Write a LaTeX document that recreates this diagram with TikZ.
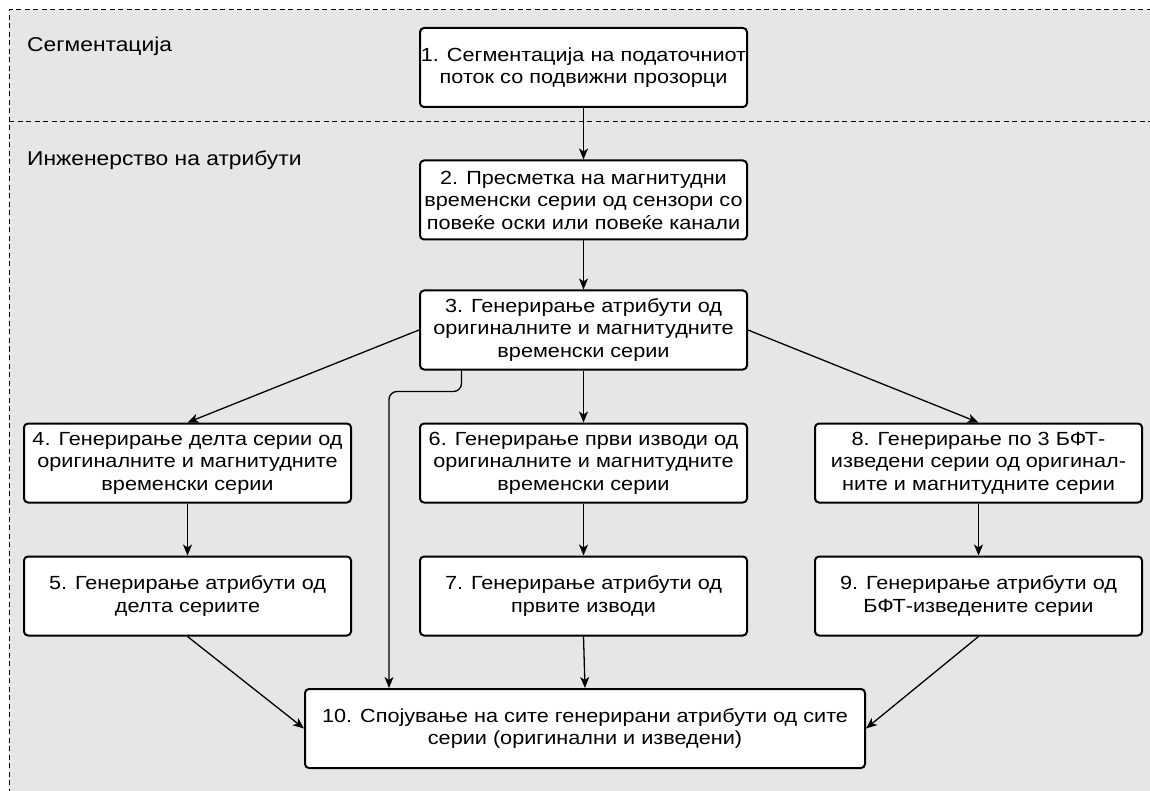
\documentclass[tikz,border=0pt]{standalone}
\usepackage{fontspec}
\setmainfont[FakeStretch=1.14]{Liberation Sans}
\usetikzlibrary{arrows.meta,calc}
\definecolor{bggray}{HTML}{E6E6E6}
\tikzset{
  stepbox/.style={draw, line width=2pt, rounded corners=4pt, fill=white,
    minimum width=327pt, minimum height=79pt, inner sep=0pt, align=center,
    font=\fontsize{19}{22.5}\selectfont},
  arr/.style={line width=1.3pt, -{Stealth[length=11pt,width=9pt,inset=3pt]}},
  lanelabel/.style={anchor=base west, inner sep=0pt, font=\fontsize{20}{23}\selectfont},
  lane/.style={dash pattern=on 5pt off 3.5pt, line width=1pt}
}
\begin{document}
\begin{tikzpicture}[x=1pt,y=-1pt]
\useasboundingbox (0,0) rectangle (1150,791);
\fill[bggray] (9,10) rectangle (1160,800);
\draw[lane] (1160,10) -- (9,10) -- (9,800);
\draw[lane] (9,122) -- (1160,122);
\node[lanelabel] (l1) at (27,52) {Сегментација};
\node[lanelabel] (l2) at (27,166) {Инженерство на атрибути};

\node[stepbox] (b1) at (583.5,67.5) {1. Сегментација на податочниот\\поток со подвижни прозорци};
\node[stepbox] (b2) at (583.5,200) {2. Пресметка на магнитудни\\временски серии од сензори со\\повеќе оски или повеќе канали};
\node[stepbox] (b3) at (583.5,330) {3. Генерирање атрибути од\\оригиналните и магнитудните\\временски серии};
\node[stepbox] (b4) at (187.5,463) {4. Генерирање делта серии од\\оригиналните и магнитудните\\временски серии};
\node[stepbox] (b6) at (583.5,463) {6. Генерирање први изводи од\\оригиналните и магнитудните\\временски серии};
\node[stepbox] (b8) at (978.5,463) {8. Генерирање по 3 БФТ-\\изведени серии од оригинал-\\ните и магнитудните серии};
\node[stepbox] (b5) at (187.5,596) {5. Генерирање атрибути од\\делта сериите};
\node[stepbox] (b7) at (583.5,596) {7. Генерирање атрибути од\\првите изводи};
\node[stepbox] (b9) at (978.5,596) {9. Генерирање атрибути од\\БФТ-изведените серии};
\node[stepbox, minimum width=560pt] (b10) at (585,728.5) {10. Спојување на сите генерирани атрибути од сите\\серии (оригинални и изведени)};

\draw[arr] (b1) -- (b2);
\draw[arr] (b2) -- (b3);
\draw[arr] (b3.west) -- (b4.north);
\draw[arr] (b3) -- (b6);
\draw[arr] (b3.east) -- (b8.north);
\draw[arr, rounded corners=8pt] ([xshift=-122pt]b3.south) -- ++(0,21) -| ([xshift=-196pt]b10.north);
\draw[arr] (b4) -- (b5);
\draw[arr] (b6) -- (b7);
\draw[arr] (b8) -- (b9);
\draw[arr] (b5.south) -- (b10.west);
\draw[arr] (b7.south) -- (b10.north);
\draw[arr] (b9.south) -- (b10.east);
\end{tikzpicture}
\end{document}
